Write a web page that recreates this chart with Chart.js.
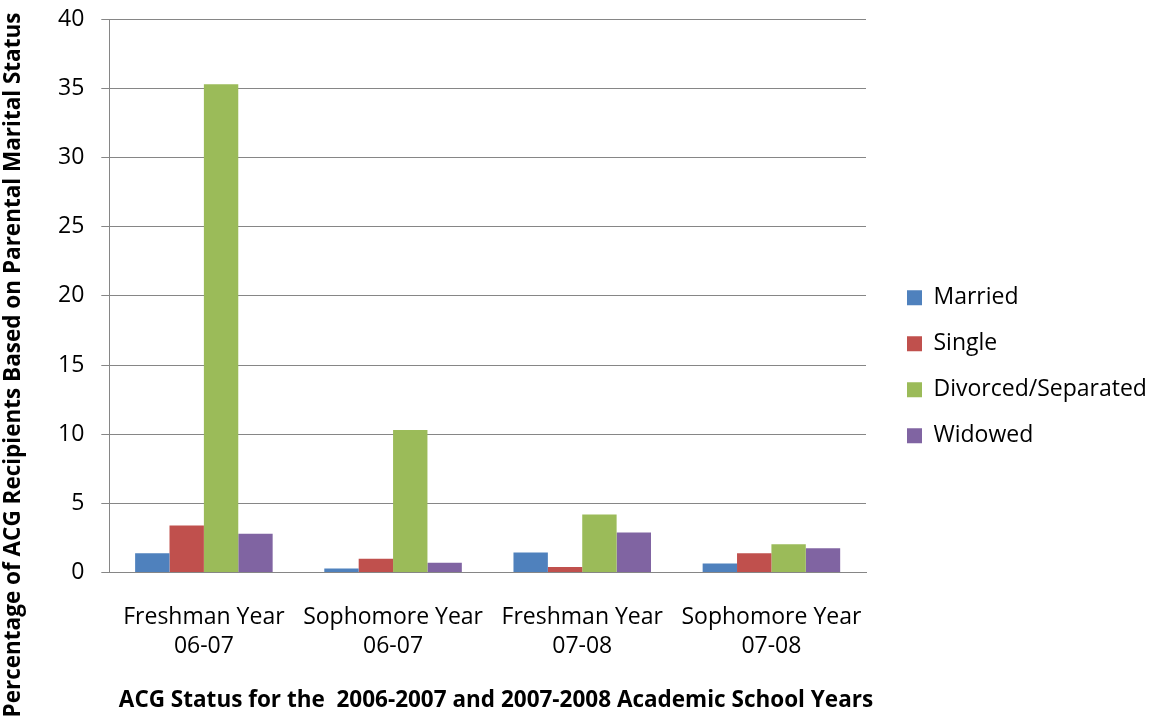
<!DOCTYPE html>
<html>
<head>
<meta charset="utf-8">
<script src="https://cdn.jsdelivr.net/npm/chart.js@4"></script>
<style>
  html, body { margin: 0; padding: 0; background: #fff; }
  #wrap { width: 1151px; height: 721px; }
</style>
</head>
<body>
<div id="wrap"><canvas id="grafica"></canvas></div>
<script>
// categorias del eje x (dos lineas por etiqueta)
const categorias = [
  ["Freshman Year", "06-07"],
  ["Sophomore Year", "06-07"],
  ["Freshman Year", "07-08"],
  ["Sophomore Year", "07-08"]
];
// series (porcentaje segun estado civil de los padres)
const married   = [1.4, 0.3, 1.45, 0.65];
const single    = [3.4, 1.0, 0.4, 1.4];
const divorced  = [35.3, 10.3, 4.2, 2.05];
const widowed   = [2.8, 0.7, 2.9, 1.75];
const ticksY = [0, 5, 10, 15, 20, 25, 30, 35, 40];

const tituloY = "Percentage of ACG Recipients Based on Parental Marital Status";
const tituloX = "ACG Status for the  2006-2007 and 2007-2008 Academic School Years";

const fuente = "'Open Sans', sans-serif";
const gris = "#868686";

// ancho fijo para la leyenda, titulos de ejes dibujados a mano
const ajustes = {
  id: "ajustes",
  beforeLayout(chart) {
    const l = chart.legend;
    if (l && !l._fitFijo) {
      const fit = l.fit;
      l.fit = function () { fit.call(this); this.width = 285; };
      l._fitFijo = true;
    }
  },
  afterLayout(chart) {
    const l = chart.legend;
    l.left += 18; l.right += 18;
    l.top += 25; l.bottom += 25;
  },
  afterDraw(chart) {
    const ctx = chart.ctx;
    ctx.save();
    ctx.font = "bold 22.5px " + fuente;
    ctx.fillStyle = "#000";
    ctx.textAlign = "center";
    ctx.textBaseline = "middle";
    ctx.fillText(tituloX, 496, 701);
    ctx.translate(14, 365);
    ctx.rotate(-Math.PI / 2);
    ctx.fillText(tituloY, 0, 0);
    ctx.restore();
  }
};

new Chart(document.querySelector("#grafica"), {
  type: "bar",
  data: {
    labels: categorias,
    datasets: [
      { label: "Married", data: married, backgroundColor: "#4F81BD" },
      { label: "Single", data: single, backgroundColor: "#C0504D" },
      { label: "Divorced/Separated", data: divorced, backgroundColor: "#9BBB59" },
      { label: "Widowed", data: widowed, backgroundColor: "#8064A2" }
    ]
  },
  options: {
    responsive: true,
    maintainAspectRatio: false,
    animation: false,
    datasets: { bar: { categoryPercentage: 0.727, barPercentage: 1.0 } },
    layout: { padding: { left: 41, top: 0, right: 0, bottom: 37.5 } },
    plugins: {
      legend: {
        position: "right",
        labels: {
          font: { family: fuente, size: 23 },
          color: "#000",
          boxWidth: 15,
          boxHeight: 15,
          padding: 23
        }
      },
      tooltip: { enabled: false }
    },
    scales: {
      x: {
        grid: { display: false },
        border: { display: true, color: gris, width: 1 },
        ticks: {
          font: { family: fuente, size: 23, lineHeight: 1.26 },
          color: "#000",
          padding: 22.5,
          maxRotation: 0
        }
      },
      y: {
        min: 0,
        max: 40,
        afterBuildTicks(axis) { axis.ticks = ticksY.map(v => ({ value: v })); },
        grid: { color: gris, tickLength: 8, drawTicks: true },
        border: { display: true, color: gris },
        ticks: {
          font: { family: fuente, size: 23, lineHeight: 0.2 },
          color: "#000",
          padding: 17
        }
      }
    }
  },
  plugins: [ajustes]
});
</script>
</body>
</html>
